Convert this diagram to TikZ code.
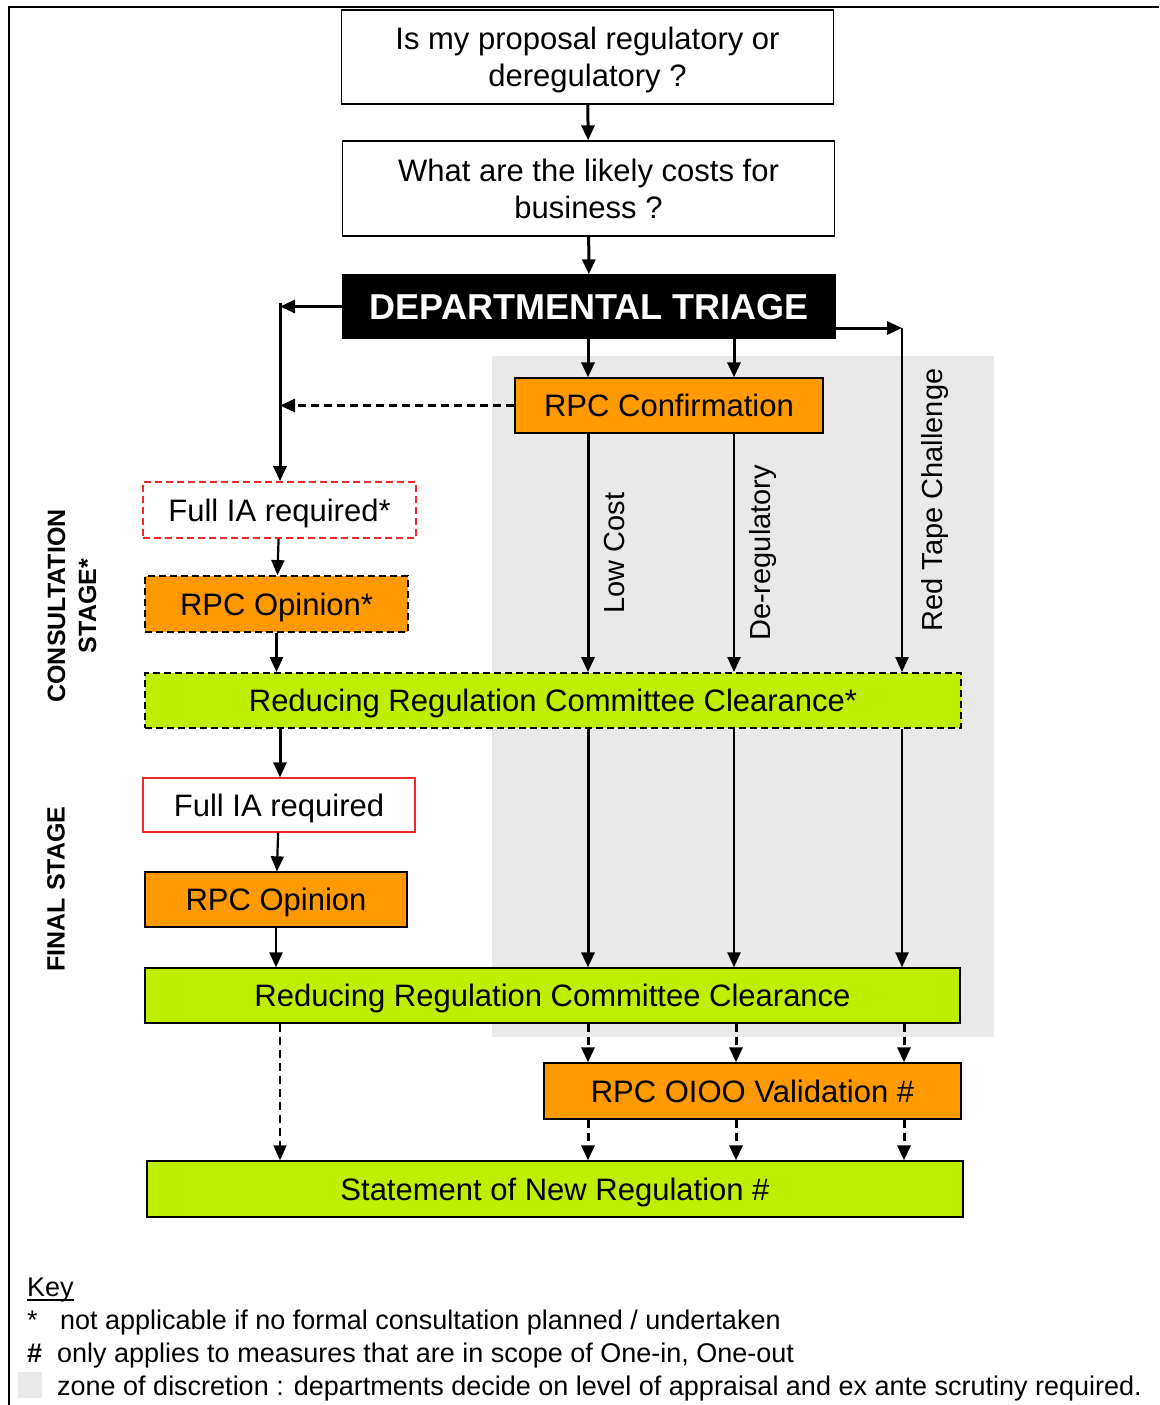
\documentclass[tikz,border=0pt]{standalone}
\usepackage{fontspec}
\setmainfont{Liberation Sans}
\usetikzlibrary{positioning,arrows.meta}
\definecolor{rpcOrange}{HTML}{FF9900}
\definecolor{rrcGreen}{HTML}{BFEF00}
\definecolor{iaRed}{HTML}{F02828}
\definecolor{zoneGrey}{HTML}{E9E9E9}
\tikzset{
  blk/.style={draw, line width=1.3pt, inner sep=0pt, align=center,
              font=\fontsize{31}{37}\selectfont, minimum height=56pt,
              text depth=0pt},
  ask/.style={blk, fill=white},
  rpc/.style={blk, fill=rpcOrange},
  rrc/.style={blk, fill=rrcGreen},
  ia/.style={blk, draw=iaRed, fill=white},
  % boxes that only apply when a consultation is held
  opt/.style={dash pattern=on 7pt off 4pt, line width=1.8pt},
  flow/.style={-{Triangle[length=15pt,width=13pt]}, line width=2.2pt},
  heavy/.style={flow, line width=3pt},
  back/.style={flow, line width=2.6pt, dash pattern=on 8pt off 5pt},
  valid/.style={flow, line width=3pt, dash pattern=on 8pt off 5pt},
  lane/.style={rotate=90, font=\fontsize{29}{34}\selectfont, inner sep=0pt,
               anchor=north},
  stagelbl/.style={rotate=90, font=\bfseries\fontsize{25}{31}\selectfont,
                   align=center, inner sep=0pt},
  keytxt/.style={font=\fontsize{27}{32}\selectfont, inner sep=0pt,
                 anchor=base west},
}

\begin{document}
\begin{tikzpicture}[x=1pt, y=-1pt]
\useasboundingbox (0,0) rectangle (1159,1405);

%% ── zone of discretion and frame ──────────────────────────────────────────
\fill[zoneGrey] (492,356) rectangle (994,1037);
\draw[line width=2pt] (9,1405) -- (9,7) -- (1159,7);

%% ── questions and triage ──────────────────────────────────────────────────
\node[ask, minimum width=492pt, minimum height=94pt] (prop) at (587.5,57)
  {Is my proposal regulatory or\\deregulatory ?};
\node[ask, minimum width=492pt, minimum height=95pt] (cost) at (588.5,188.5)
  {What are the likely costs for\\business ?};
\node[blk, fill=black, text=white, minimum width=492pt, minimum height=63pt,
      font=\bfseries\fontsize{36}{40}\selectfont] (triage) at (589,306.5)
  {DEPARTMENTAL TRIAGE};

\coordinate (lsplit) at (280,303);
\coordinate (rsplit) at (902,328);
\coordinate (lowx) at (588,0);
\coordinate (derx) at (734,0);

\node[rpc, minimum width=308pt, minimum height=55pt] (conf) at (669,405.5)
  {RPC Confirmation};

%% ── consultation stage ────────────────────────────────────────────────────
\node[ia, opt, minimum width=273pt] (fullia1) at (279.5,510) {Full IA required*};
\node[rpc, opt, minimum width=263pt] (opin1) at (276.5,604) {RPC Opinion*};
\node[rrc, opt, minimum width=816pt, minimum height=55pt] (rrc1) at (553,700.5)
  {Reducing Regulation Committee Clearance*};

%% ── final stage ───────────────────────────────────────────────────────────
\node[ia, minimum width=272pt, minimum height=54pt] (fullia2) at (279,805)
  {Full IA required};
\node[rpc, minimum width=262pt, minimum height=55pt] (opin2) at (276,899.5)
  {RPC Opinion};
\node[rrc, minimum width=815pt, minimum height=55pt] (rrc2) at (552.5,995.5)
  {Reducing Regulation Committee Clearance};
\node[rpc, minimum width=417pt] (oioo) at (752.5,1091) {RPC OIOO Validation \#};
\node[rrc, minimum width=816pt] (snr) at (555,1189) {Statement of New Regulation \#};

\node[stagelbl] (consult) at (72,606) {CONSULTATION\\STAGE*};
\node[stagelbl] (final) at (56,889) {FINAL STAGE};

%% ── flow ──────────────────────────────────────────────────────────────────
\draw[heavy] (prop) -- (cost);
\draw[heavy] (cost) -- (triage);
\draw[heavy] (triage.west) -- (triage.west -| lsplit);
\draw[heavy] (lsplit) -- (fullia1.north -| lsplit);
\draw[heavy] (triage.east |- rsplit) -- (rsplit);
\draw[flow] (rsplit) -- node[lane, outer sep=19pt] {Red Tape Challenge}
  (rrc1.north -| rsplit);
\draw[heavy] (triage.south -| lowx) -- (conf.north -| lowx);
\draw[heavy] (triage.south -| derx) -- (conf.north -| derx);
\draw[back] (conf.west) -- (conf.west -| lsplit);
\draw[heavy] (conf.south -| lowx) -- node[lane, outer sep=16pt] {Low Cost}
  (rrc1.north -| lowx);
\draw[flow] (conf.south -| derx) -- node[lane, outer sep=15pt] {De-regulatory}
  (rrc1.north -| derx);

\draw[flow] (fullia1) -- (opin1);
\draw[flow] (opin1.south) -- (rrc1.north -| opin1);
\draw[heavy] (rrc1.south -| lsplit) -- (fullia2.north -| lsplit);
\draw[flow] (fullia2) -- (opin2);
\draw[flow] (opin2.south) -- (rrc2.north -| opin2);

\draw[heavy] (rrc1.south -| lowx) -- (rrc2.north -| lowx);
\draw[flow] (rrc1.south -| derx) -- (rrc2.north -| derx);
\draw[flow] (rrc1.south -| rsplit) -- (rrc2.north -| rsplit);

\foreach \lx in {588,736,904}{
  \draw[valid] (rrc2.south -| \lx,0) -- (oioo.north -| \lx,0);
  \draw[valid] (oioo.south -| \lx,0) -- (snr.north -| \lx,0);
}
\draw[back, line width=2pt] (rrc2.south -| lsplit) -- (snr.north -| lsplit);

%% ── key ───────────────────────────────────────────────────────────────────
\node[keytxt] (key) at (27,1296) {Key};
\draw[line width=2.5pt] ([yshift=-4pt]key.base west) -- ([yshift=-4pt]key.base east);
\node[keytxt] (kstar) at (27,1329) {*};
\node[keytxt] (kstartxt) at (60,1329)
  {not applicable if no formal consultation planned / undertaken};
\node[keytxt, font=\bfseries\fontsize{27}{32}\selectfont] (khash) at (27,1362) {\#};
\node[keytxt] (khashtxt) at (57,1362)
  {only applies to measures that are in scope of One-in, One-out};
\node[fill=zoneGrey, minimum width=24pt, minimum height=26pt, inner sep=0pt]
  (kzone) at (30,1385) {};
\node[keytxt] (kzonetxt) at (57,1395)
  {zone of discretion : departments decide on level of appraisal and ex ante scrutiny required.};
\end{tikzpicture}
\end{document}
